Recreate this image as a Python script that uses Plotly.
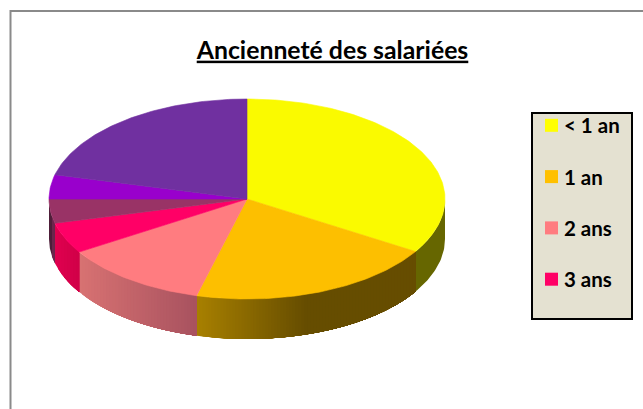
import math
import plotly.graph_objects as go

# Slices, clockwise from 12 o'clock
categories = ["< 1 an", "1 an", "2 ans", "3 ans", "4 ans", "5 ans", "6 ans"]
values = [33.8, 20.3, 12.0, 5.0, 3.9, 3.9, 21.1]
top_colors = ["#FAFA00", "#FDBF00", "#FF7C80", "#FF0066", "#993366", "#9900CC", "#7030A0"]
# wall shade at the left and right end of each slice's visible wall
wall_left = ["#666600", "#A88000", "#D87272", "#E0004F", "#3F1A30", None, None]
wall_right = ["#666600", "#664D00", "#A8525F", "#D00048", "#7A2A55", None, None]
# share of the wall's width over which the shade changes; flat after that
wall_ramp = [1.0, 0.5, 1.0, 1.0, 1.0, 1.0, 1.0]
legend_colors = ["#FFFF00", "#FFC000", "#FF7C80", "#FF0066"]
legend_count = 4
title = "Ancienneté des salariées"

W, H = 643, 409
CX, CY, RX, RY, DEPTH = 247, 199, 198, 100, 0.40
LEG_X, LEG_Y0, LEG_DY = 551.5, 125.3, 51.3


def hex2rgb(c):
    return tuple(int(c[i:i + 2], 16) for i in (1, 3, 5))


def mix(a, b, t):
    a, b = hex2rgb(a), hex2rgb(b)
    return "rgb(%d,%d,%d)" % tuple(round(a[i] + (b[i] - a[i]) * t) for i in range(3))


def arc(a0, a1, n):
    ang = [math.radians(a0 + (a1 - a0) * i / n) for i in range(n + 1)]
    return [math.sin(t) for t in ang], [math.cos(t) for t in ang]


fig = go.Figure()
total = sum(values)
edges = [0.0]
for v in values:
    edges.append(edges[-1] + v / total * 360)

# side walls (only the front half, angles 90..270); each band runs to the
# slice's right end and the next band paints over it, which leaves no seams
for i in range(len(values)):
    lo, hi = max(edges[i], 90), min(edges[i + 1], 270)
    if hi <= lo or wall_left[i] is None:
        continue
    x_lo, x_hi = math.sin(math.radians(lo)), math.sin(math.radians(hi))
    x_min, x_max = min(x_lo, x_hi), max(x_lo, x_hi)
    flat = wall_left[i] == wall_right[i]
    n = 1 if flat else max(1, round((x_max - x_min) * RX / 3))
    for k in range(n):
        if flat:
            a1 = hi
        else:
            u0 = x_min + (x_max - x_min) * k / n
            a1 = min(180 - math.degrees(math.asin(u0)), hi)
        tx, ty = arc(lo, a1, 30)
        color = mix(wall_left[i], wall_right[i], min(1, (k + 0.5) / n / wall_ramp[i]))
        fig.add_trace(go.Scatter(
            x=tx + tx[::-1], y=ty + [y - DEPTH for y in ty[::-1]],
            mode="lines", fill="toself", line=dict(width=0),
            fillcolor=color, hoverinfo="skip", showlegend=False))

# top faces
for i in range(len(values)):
    tx, ty = arc(edges[i], edges[i + 1], max(4, round(values[i] * 4)))
    fig.add_trace(go.Scatter(
        x=[0] + tx + [0], y=[0] + ty + [0], mode="lines", fill="toself",
        line=dict(width=0.6, color=top_colors[i]), fillcolor=top_colors[i],
        name=categories[i], hoverinfo="name", showlegend=False))

# legend swatches, drawn on the same axes
for i in range(legend_count):
    fig.add_trace(go.Scatter(
        x=[(LEG_X - CX) / RX], y=[(CY - (LEG_Y0 + i * LEG_DY)) / RY],
        mode="markers", name=categories[i], hoverinfo="name", showlegend=False,
        cliponaxis=False,
        marker=dict(symbol="square", size=13, color=legend_colors[i])))

px = lambda v: v / W
py = lambda v: 1 - v / H
fig.update_layout(
    width=W, height=H, margin=dict(l=0, r=0, t=0, b=0),
    paper_bgcolor="white", plot_bgcolor="white",
    title=dict(text=title, x=332.5 / W, xanchor="center", y=py(50), yanchor="middle",
               font=dict(family="Lato", size=24.8, color="black", weight="bold", lineposition="under")),
    xaxis=dict(range=[-CX / RX, (W - CX) / RX], visible=False, fixedrange=True),
    yaxis=dict(range=[(CY - H) / RY, CY / RY], visible=False, fixedrange=True),
    annotations=[
        dict(text=categories[i], xref="paper", yref="paper", x=px(561.5),
             y=py(LEG_Y0 + i * LEG_DY), xanchor="left", yanchor="middle", showarrow=False,
             font=dict(family="Lato", size=20.5, color="black", weight="bold"))
        for i in range(legend_count)
    ],
    shapes=[
        dict(type="path", xref="paper", yref="paper",
             path=f"M {px(10.5)} 0 L {px(10.5)} {py(11)} L 1 {py(11)}",
             line=dict(color="#8A8A8A", width=2)),
        dict(type="rect", xref="paper", yref="paper", layer="below",
             x0=px(532), x1=px(632), y0=py(113), y1=py(319),
             fillcolor="#E4E1D1", line=dict(color="black", width=2)),
    ],
    showlegend=False,
)
fig.write_html("out.html", config={"displayModeBar": False},
               post_script="document.body.style.margin='0';")
